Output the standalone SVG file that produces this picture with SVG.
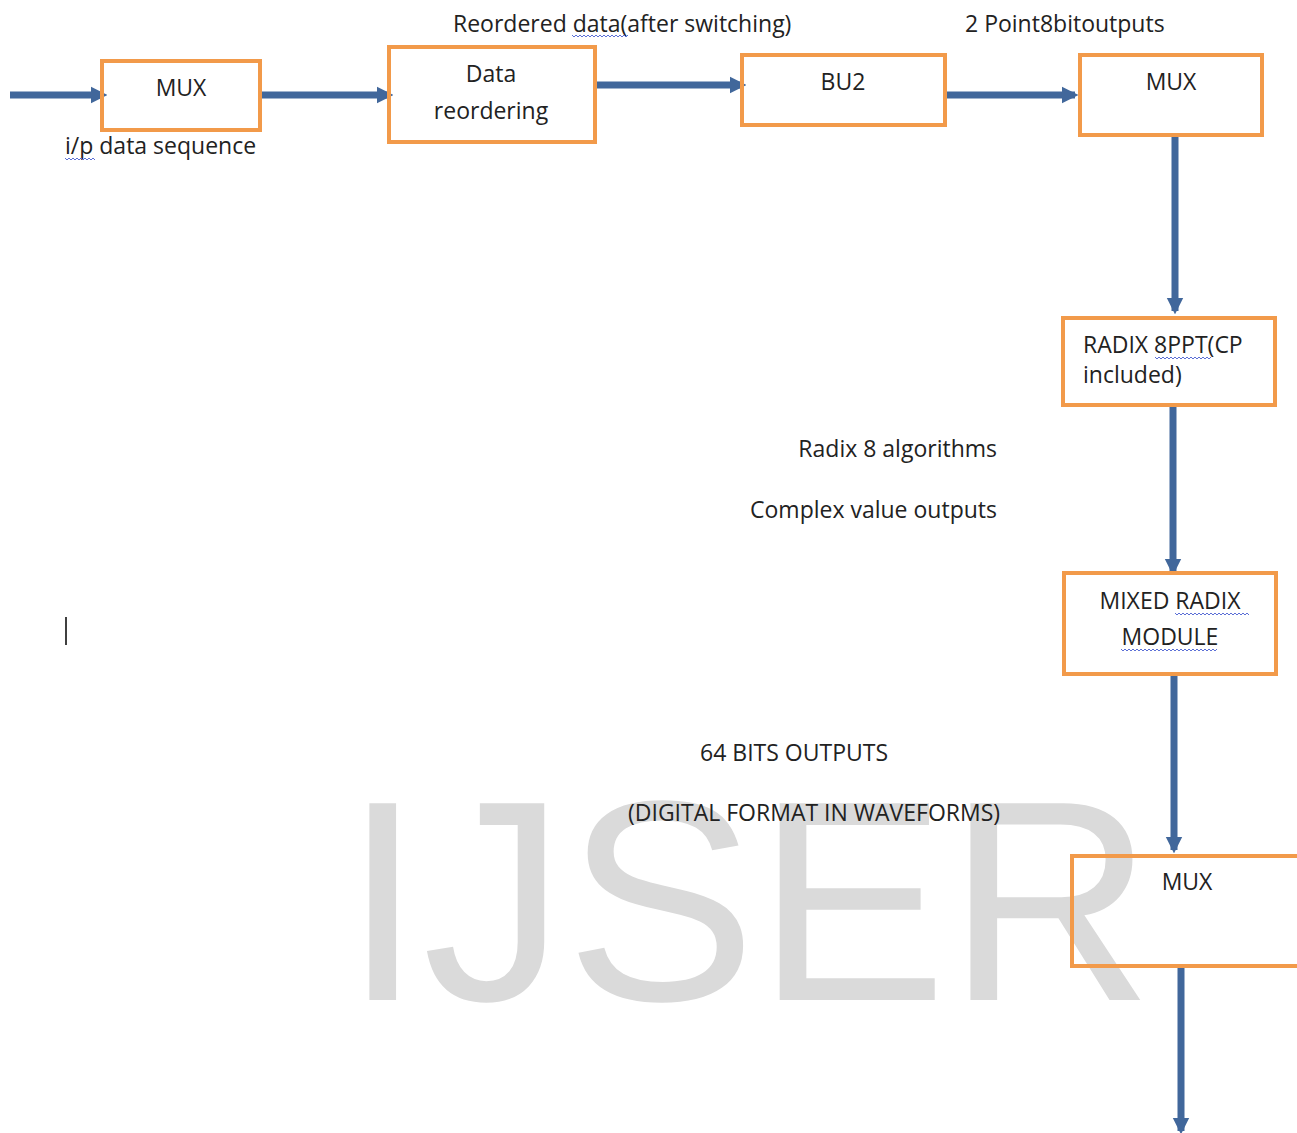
<svg xmlns="http://www.w3.org/2000/svg" width="1297" height="1133" viewBox="0 0 1297 1133">
<style>
.t{font-family:"Open Sans","Noto Sans","Liberation Sans",sans-serif;font-size:23px;fill:#222}
.box{fill:none;stroke:#F29A4A;stroke-width:4}
.ar{stroke:#41679B;stroke-width:7;fill:none}
.wm{font-family:"Liberation Sans",Arial,sans-serif;font-size:286px;fill:#dadada}
.sq{fill:none;stroke:#5b6fd6;stroke-width:1}
</style>
<defs>
<marker id="ah" viewBox="0 0 10 10" refX="8" refY="5" markerWidth="2.4" markerHeight="2.6" orient="auto" markerUnits="strokeWidth">
<path d="M0,0 L10,5 L0,10 z" fill="#41679B"/>
</marker>
</defs>
<rect width="1297" height="1133" fill="#fff"/>
<text class="wm" x="343" y="1000">IJSER</text>
<g id="connectors">
<line class="ar" x1="10" y1="95" x2="104" y2="95" marker-end="url(#ah)"/>
<line class="ar" x1="260" y1="95" x2="390" y2="95" marker-end="url(#ah)"/>
<line class="ar" x1="595" y1="85" x2="743" y2="85" marker-end="url(#ah)"/>
<line class="ar" x1="945" y1="95" x2="1075" y2="95" marker-end="url(#ah)"/>
<line class="ar" x1="1175" y1="135" x2="1175" y2="311" marker-end="url(#ah)"/>
<line class="ar" x1="1173" y1="405" x2="1173" y2="572" marker-end="url(#ah)"/>
<line class="ar" x1="1174" y1="674" x2="1174" y2="850" marker-end="url(#ah)"/>
<line class="ar" x1="1181" y1="966" x2="1181" y2="1131" marker-end="url(#ah)"/>
</g>
<g id="mux1"><rect class="box" x="102" y="61" width="158" height="69"/><text class="t" x="181" y="96" text-anchor="middle">MUX</text></g>
<g id="reorder"><rect class="box" x="389" y="47" width="206" height="95"/><text class="t" x="491" y="82" text-anchor="middle">Data</text><text class="t" x="491" y="119" text-anchor="middle">reordering</text></g>
<g id="bu2"><rect class="box" x="742" y="55" width="203" height="70"/><text class="t" x="843" y="90" text-anchor="middle">BU2</text></g>
<g id="mux2"><rect class="box" x="1080" y="55" width="182" height="80"/><text class="t" x="1171" y="90" text-anchor="middle">MUX</text></g>
<g id="radix8"><rect class="box" x="1063" y="318" width="212" height="87"/><text class="t" x="1083" y="353">RADIX 8PPT(CP</text><text class="t" x="1083" y="383">included)</text></g>
<g id="mixed"><rect class="box" x="1064" y="573" width="212" height="101"/><text class="t" x="1170" y="609" text-anchor="middle">MIXED RADIX</text><text class="t" x="1170" y="645" text-anchor="middle">MODULE</text></g>
<g id="mux3"><rect class="box" x="1072" y="856" width="240" height="110"/><text class="t" x="1187" y="890" text-anchor="middle">MUX</text></g>
<g id="labels">
<text class="t" x="453" y="32">Reordered data(after switching)</text>
<text class="t" x="965" y="32">2 Point8bitoutputs</text>
<text class="t" x="65" y="154">i/p data sequence</text>
<text class="t" x="997" y="457" text-anchor="end">Radix 8 algorithms</text>
<text class="t" x="997" y="518" text-anchor="end">Complex value outputs</text>
<text class="t" x="700" y="761">64 BITS OUTPUTS</text>
<text class="t" x="628" y="821">(DIGITAL FORMAT IN WAVEFORMS)</text>
</g>
<g id="squiggles">
<path class="sq" d="M65,158 l2,2 l2,-2 l2,2 l2,-2 l2,2 l2,-2 l2,2 l2,-2 l2,2 l2,-2 l2,2 l2,-2 l2,2 l2,-2 l2,2"/>
<path class="sq" d="M572,35 l2,2 l2,-2 l2,2 l2,-2 l2,2 l2,-2 l2,2 l2,-2 l2,2 l2,-2 l2,2 l2,-2 l2,2 l2,-2 l2,2 l2,-2 l2,2 l2,-2 l2,2 l2,-2 l2,2 l2,-2 l2,2 l2,-2 l2,2 l2,-2 l2,2 l2,-2"/>
<path class="sq" d="M1155,357 l2,2 l2,-2 l2,2 l2,-2 l2,2 l2,-2 l2,2 l2,-2 l2,2 l2,-2 l2,2 l2,-2 l2,2 l2,-2 l2,2 l2,-2 l2,2 l2,-2 l2,2 l2,-2 l2,2 l2,-2 l2,2 l2,-2 l2,2 l2,-2 l2,2 l2,-2"/>
<path class="sq" d="M1175,613 l2,2 l2,-2 l2,2 l2,-2 l2,2 l2,-2 l2,2 l2,-2 l2,2 l2,-2 l2,2 l2,-2 l2,2 l2,-2 l2,2 l2,-2 l2,2 l2,-2 l2,2 l2,-2 l2,2 l2,-2 l2,2 l2,-2 l2,2 l2,-2 l2,2 l2,-2 l2,2 l2,-2 l2,2 l2,-2 l2,2 l2,-2 l2,2 l2,-2 l2,2"/>
<path class="sq" d="M1121,649 l2,2 l2,-2 l2,2 l2,-2 l2,2 l2,-2 l2,2 l2,-2 l2,2 l2,-2 l2,2 l2,-2 l2,2 l2,-2 l2,2 l2,-2 l2,2 l2,-2 l2,2 l2,-2 l2,2 l2,-2 l2,2 l2,-2 l2,2 l2,-2 l2,2 l2,-2 l2,2 l2,-2 l2,2 l2,-2 l2,2 l2,-2 l2,2 l2,-2 l2,2 l2,-2 l2,2 l2,-2 l2,2 l2,-2 l2,2 l2,-2 l2,2 l2,-2 l2,2 l2,-2"/>
</g>
<line x1="66" y1="617" x2="66" y2="645" stroke="#000" stroke-width="1.5"/>
</svg>
